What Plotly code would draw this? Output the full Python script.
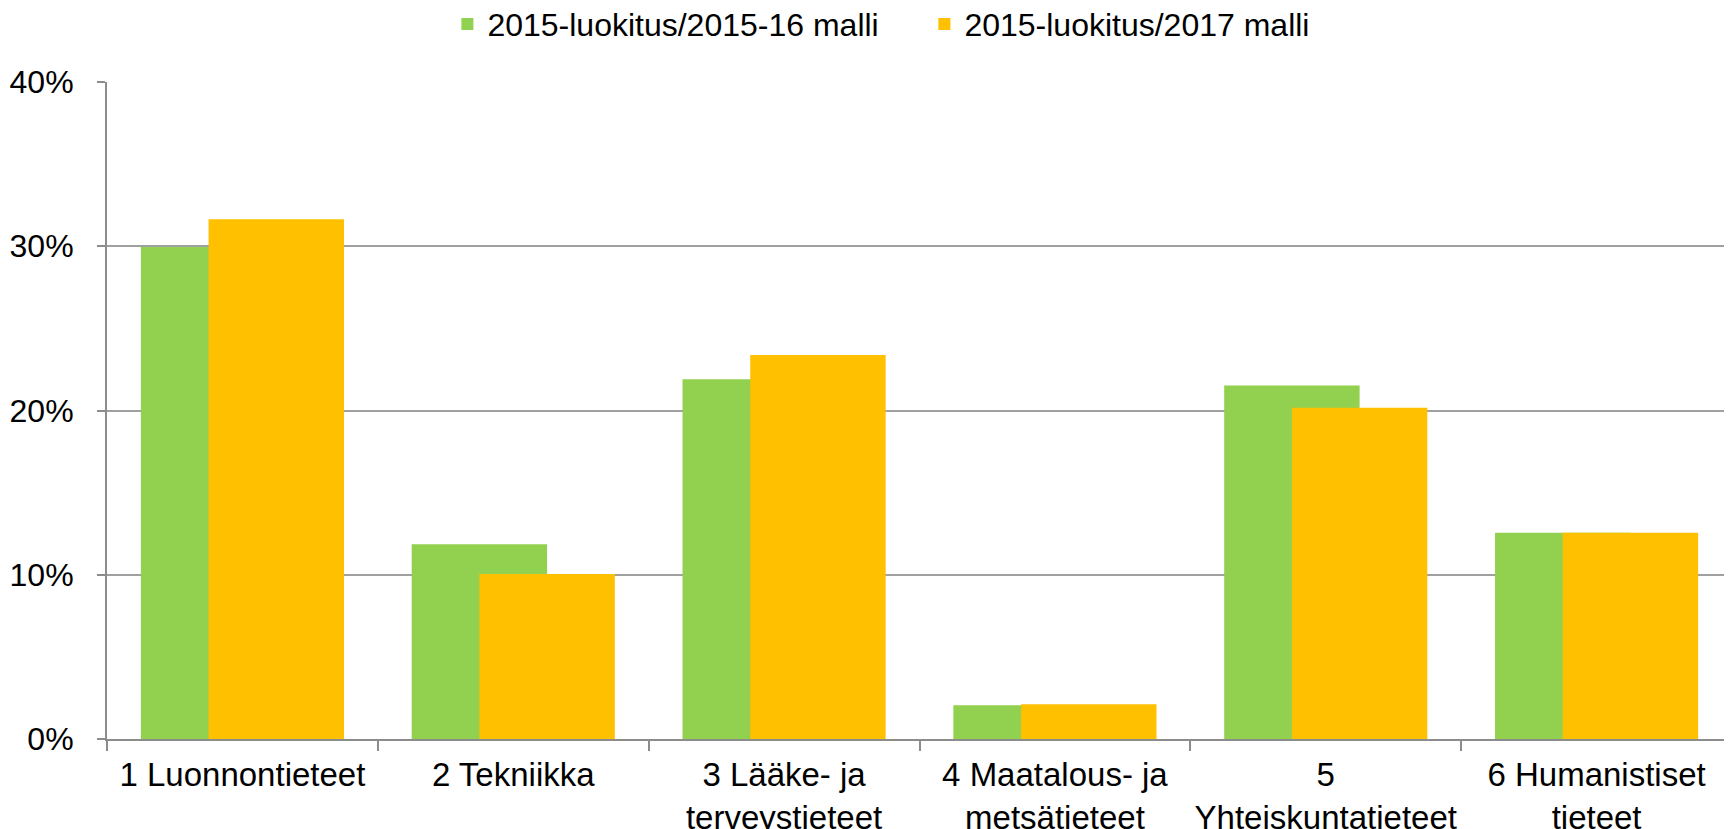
import plotly.graph_objects as go

categories = [
    "1 Luonnontieteet",
    "2 Tekniikka",
    "3 Lääke- ja<br>terveystieteet",
    "4 Maatalous- ja<br>metsätieteet",
    "5<br>Yhteiskuntatieteet",
    "6 Humanistiset<br>tieteet",
]
malli_2015_16 = [29.95, 11.86, 21.9, 2.05, 21.52, 12.55]
malli_2017 = [31.65, 10.05, 23.38, 2.11, 20.16, 12.56]
y_ticks = [0, 10, 20, 30, 40]
y_labels = ["0%", "10%", "20%", "30%", "40%"]

font = "Liberation Sans, Arial, sans-serif"

fig = go.Figure()
fig.add_trace(go.Bar(
    x=categories, y=malli_2015_16,
    name="2015-luokitus/2015-16 malli",
    marker=dict(color="#92D050", line=dict(width=0)),
    width=0.5, offset=-0.375,
))
fig.add_trace(go.Bar(
    x=categories, y=malli_2017,
    name="2015-luokitus/2017 malli",
    marker=dict(color="#FFC000", line=dict(width=0)),
    width=0.5, offset=-0.125,
))

# page body has an 8px margin, so the figure is a bit smaller than the window
fig.update_layout(
    width=1724, height=821,
    barmode="overlay",
    plot_bgcolor="white", paper_bgcolor="white",
    margin=dict(l=99, r=0, t=74, b=90, autoexpand=False),
    font=dict(family=font, size=32, color="black"),
    legend=dict(
        orientation="h", x=0.503, xanchor="center",
        y=1.088, yanchor="middle",
        font=dict(size=32),
        itemwidth=30,
        entrywidth=432, entrywidthmode="pixels",
    ),
)
fig.update_xaxes(
    showline=True, linecolor="#8C8C8C", linewidth=2,
    ticks="outside", ticklen=10, tickwidth=2, tickcolor="#8C8C8C",
    tickson="boundaries", tickangle=0,
    showgrid=False, ticklabelstandoff=5,
    tickfont=dict(size=33),
)
fig.update_yaxes(
    range=[0, 40], tickvals=y_ticks, ticktext=y_labels,
    showline=True, linecolor="#8C8C8C", linewidth=2,
    ticks="outside", ticklen=8, tickwidth=2, tickcolor="#8C8C8C",
    showgrid=True, gridcolor="#A0A0A0", gridwidth=2,
    zeroline=False, ticklabelstandoff=17,
)

fig.write_html("out.html")
